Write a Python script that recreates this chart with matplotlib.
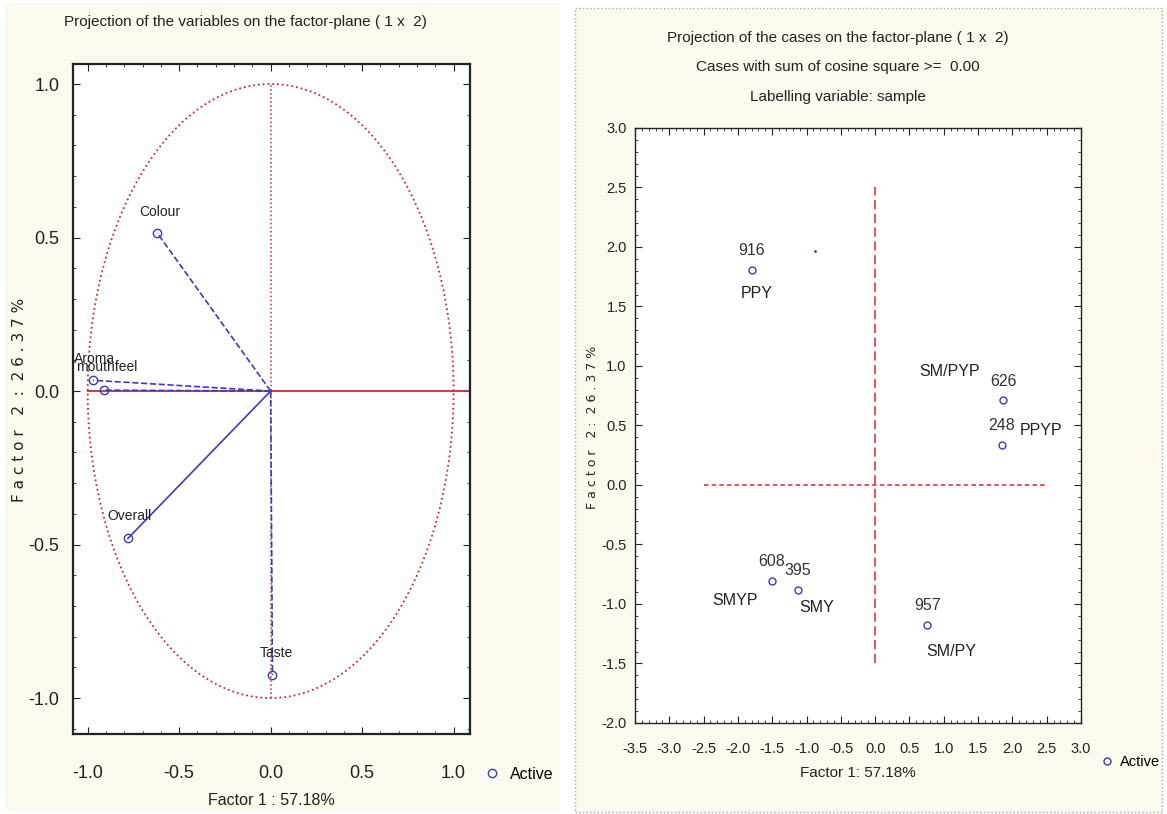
import numpy as np
import matplotlib
matplotlib.use("Agg")
import matplotlib.pyplot as plt
from matplotlib.patches import Rectangle
from matplotlib.ticker import MultipleLocator

# variables (left plot)
var_names = ["Colour", "Aroma", "mouthfeel", "Overall", "Taste"]
var_f1 = [-0.62, -0.97, -0.91, -0.78, 0.01]
var_f2 = [0.515, 0.035, 0.003, -0.48, -0.925]
var_style = ["--", "--", "--", "-", "--"]
var_lbl_off = [(2, 15), (1, 15), (2, 17), (1, 16), (3, 16)]

# cases (right plot)
case_ids = ["916", "626", "248", "608", "395", "957"]
case_f1 = [-1.80, 1.87, 1.85, -1.51, -1.13, 0.76]
case_f2 = [1.81, 0.71, 0.34, -0.81, -0.88, -1.18]
case_names = ["PPY", "SM/PYP", "PPYP", "SMYP", "SMY", "SM/PY"]
name_off = [(4, -17), (-39, 21), (28, 10), (-26, -14), (14, -13), (17, -19)]
stray_pt = (-0.88, 1.97)

BLUE = "#3a3ac4"
RED = "#d62828"
CREAM = "#fcf9ee"
INK = "#222222"

plt.rcParams["font.family"] = ["Liberation Sans", "DejaVu Sans"]
plt.rcParams["axes.unicode_minus"] = False
fig = plt.figure(figsize=(11.67, 8.14), dpi=100)

# panel backgrounds
fig.patches.append(Rectangle((0.004, 0.004), 0.476, 0.992, transform=fig.transFigure,
                             facecolor=CREAM, edgecolor="none", zorder=-5))
fig.patches.append(Rectangle((0.493, 0.003), 0.503, 0.987, transform=fig.transFigure,
                             facecolor=CREAM, edgecolor="#aaaaaa", linestyle=":", lw=1, zorder=-5))

def style_axes(ax, size, pad_x, pad_y, lw):
    ax.set_facecolor("white")
    for s in ax.spines.values():
        s.set_linewidth(lw)
        s.set_color(INK)
    ax.tick_params(which="both", direction="in", top=True, right=True, labelsize=size, colors=INK)
    ax.tick_params(axis="x", which="major", pad=pad_x, length=5)
    ax.tick_params(axis="y", which="major", pad=pad_y, length=5)
    ax.tick_params(which="minor", length=2.5)

# ---- left: variables
ax1 = fig.add_axes([0.0626, 0.0983, 0.3402, 0.823])
t = np.linspace(0, 2 * np.pi, 400)
ax1.plot(np.cos(t), np.sin(t), color=RED, ls=":", lw=1.3)
ax1.plot([-1.0, 1.09], [0, 0], color=RED, lw=1.3)
ax1.plot([0, 0], [-1.0, 1.0], color=RED, ls=":", lw=1.1)
for x, y, ls in zip(var_f1, var_f2, var_style):
    ax1.plot([0, x], [0, y], color=BLUE, ls=ls, lw=1.2)
ax1.plot(var_f1, var_f2, "o", mfc="none", mec=BLUE, ms=6, mew=1, label="Active")
for n, x, y, off in zip(var_names, var_f1, var_f2, var_lbl_off):
    ax1.annotate(n, (x, y), xytext=off, textcoords="offset points",
                 ha="center", va="center", fontsize=10, color=INK)
ax1.set_xlim(-1.08, 1.09)
ax1.set_ylim(-1.117, 1.065)
ax1.set_xticks([-1.0, -0.5, 0.0, 0.5, 1.0])
ax1.set_yticks([-1.0, -0.5, 0.0, 0.5, 1.0])
ax1.xaxis.set_minor_locator(MultipleLocator(0.1))
ax1.yaxis.set_minor_locator(MultipleLocator(0.1))
style_axes(ax1, 13, 22, 10, 1.6)
ax1.set_xlabel("Factor 1 : 57.18%", fontsize=11.5, labelpad=8, color=INK)
fig.text(20 / 1167, 1 - 400 / 814, "F a c t o r   2  :  2 6 . 3 7 %", rotation=90,
         ha="center", va="center", fontsize=11, family="DejaVu Sans", color=INK)
ax1.legend(loc="center left", bbox_to_anchor=(1.0, -0.06), frameon=False,
           fontsize=11.5, handletextpad=0.6, handlelength=1.0)
fig.text(245 / 1167, 1 - 22 / 814, "Projection of the variables on the factor-plane ( 1 x  2)",
         ha="center", va="center", fontsize=11, color=INK)

# ---- right: cases
ax2 = fig.add_axes([0.5441, 0.1118, 0.3822, 0.7310])
ax2.plot([-2.5, 2.5], [0, 0], color=RED, ls=(0, (3, 2)), lw=1.1)
ax2.plot([0, 0], [-1.5, 2.5], color=RED, ls=(0, (6, 3)), lw=1.1)
ax2.plot(case_f1, case_f2, "o", mfc="none", mec=BLUE, ms=5, mew=1, label="Active")
ax2.plot([stray_pt[0]], [stray_pt[1]], ".", color=BLUE, ms=2)
for cid, nm, x, y, off in zip(case_ids, case_names, case_f1, case_f2, name_off):
    ax2.annotate(cid, (x, y), xytext=(0, 14), textcoords="offset points",
                 ha="center", va="center", fontsize=11.5, color="#333333")
    ax2.annotate(nm, (x, y), xytext=off, textcoords="offset points",
                 ha="center", va="center", fontsize=11.5, color=INK)
ax2.set_xlim(-3.5, 3.0)
ax2.set_ylim(-2.0, 3.0)
xt = np.arange(-3.5, 3.01, 0.5)
yt = np.arange(-2.0, 3.01, 0.5)
ax2.set_xticks(xt)
ax2.set_yticks(yt)
ax2.xaxis.set_minor_locator(MultipleLocator(0.1))
ax2.yaxis.set_minor_locator(MultipleLocator(0.1))
style_axes(ax2, 10.5, 14, 6, 1.0)
ax2.set_xticklabels([f"{v:.1f}" for v in xt])
ax2.set_yticklabels([f"{v:.1f}" for v in yt])
ax2.set_xlabel("Factor 1: 57.18%", fontsize=11, labelpad=7, color=INK)
fig.text(592 / 1167, 1 - 427 / 814, "F a c t o r   2 :  2 6 . 3 7 %", rotation=90,
         ha="center", va="center", fontsize=9, family="DejaVu Sans", color=INK)
ax2.legend(loc="center left", bbox_to_anchor=(1.015, -0.066), frameon=False,
           fontsize=10.5, handletextpad=0.4, handlelength=0.9)
fig.text(838 / 1167, 1 - 38 / 814, "Projection of the cases on the factor-plane ( 1 x  2)",
         ha="center", va="center", fontsize=11, color=INK)
fig.text(838 / 1167, 1 - 67 / 814, "Cases with sum of cosine square >=  0.00",
         ha="center", va="center", fontsize=11, color=INK)
fig.text(838 / 1167, 1 - 97 / 814, "Labelling variable: sample",
         ha="center", va="center", fontsize=11, color=INK)

fig.savefig("out.png", dpi=100, facecolor="white")
